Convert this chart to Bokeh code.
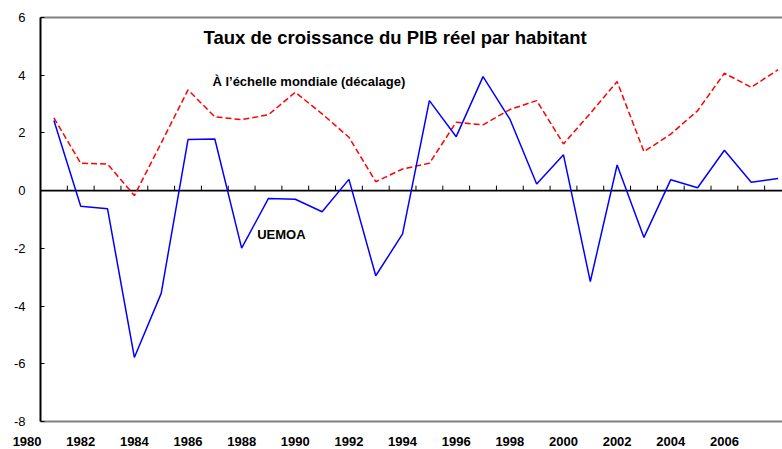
from bokeh.plotting import figure
from bokeh.models import Range1d, FixedTicker, Label
from bokeh.embed import file_html
from bokeh.resources import INLINE

# ---- data ----
years = list(range(1981, 2009))
uemoa = [2.43, -0.54, -0.63, -5.78, -3.56, 1.77, 1.79, -1.99, -0.27, -0.30,
         -0.73, 0.39, -2.95, -1.50, 3.12, 1.87, 3.95, 2.48, 0.23, 1.24,
         -3.15, 0.89, -1.62, 0.38, 0.10, 1.40, 0.29, 0.42]
monde = [2.52, 0.95, 0.92, -0.17, 1.65, 3.49, 2.56, 2.46, 2.63, 3.41,
         2.66, 1.85, 0.31, 0.75, 0.95, 2.37, 2.28, 2.81, 3.12, 1.62,
         2.68, 3.78, 1.35, 1.96, 2.77, 4.07, 3.58, 4.19]
x_label_years = list(range(1980, 2007, 2))
x_tick_labels = [str(y) for y in x_label_years]
y_ticks = [-8, -6, -4, -2, 0, 2, 4, 6]
y_tick_labels = [str(v) for v in y_ticks]

title_text = "Taux de croissance du PIB réel par habitant"
monde_label = "À l’échelle mondiale (décalage)"
uemoa_label = "UEMOA"

FONT = "Liberation Sans"

# category axis: each year occupies one slot; plot area starts half a slot before the first year
x_start_cat = years[0] - 0.5
px_per_year = 26.82
x_lo = x_start_cat - 40 / px_per_year
x_hi = x_start_cat + 742 / px_per_year

y_min, y_max = y_ticks[0], y_ticks[-1]
px_per_unit = 404 / (y_max - y_min)
pad_top = 8 / px_per_unit
pad_bottom = 28 / px_per_unit

p = figure(width=782, height=449,
           x_range=Range1d(x_lo, x_hi),
           y_range=Range1d(y_min - pad_bottom, y_max + pad_top),
           output_backend="svg", toolbar_location=None,
           min_border_left=0, min_border_top=9, min_border_right=0,
           min_border_bottom=0)
p.outline_line_color = None
p.xgrid.visible = False
p.ygrid.visible = False
p.background_fill_color = "white"
p.border_fill_color = "white"

# plot-area border bands (top / bottom, gray), drawn as thin filled strips 2 px thick
half = 1.0 / px_per_unit
p.quad(left=[x_start_cat, x_start_cat], right=[x_hi + 1, x_hi + 1],
       top=[y_max + half, y_min + half], bottom=[y_max - half, y_min - half],
       fill_color="#808080", line_color=None)

# zero line with category tick marks between years
x_edge = [x_start_cat, x_hi + 1]
p.line(x=x_edge, y=[0, 0], line_color="black", line_width=1.6)
tick_x = [y + 0.5 for y in years]
tick_len = 5 / px_per_unit
p.segment(x0=tick_x, y0=[0] * len(tick_x), x1=tick_x, y1=[tick_len] * len(tick_x),
          line_color="black", line_width=1)

p.line(years, monde, line_color="#FF0000", line_width=1.5, line_dash="6 3")
p.line(years, uemoa, line_color="#0000FF", line_width=1.5)

# bottom axis: labels only, placed under the plot area's lower edge
xa = p.xaxis[0]
xa.fixed_location = y_min
xa.ticker = FixedTicker(ticks=x_label_years)
xa.major_label_overrides = {y: s for y, s in zip(x_label_years, x_tick_labels)}
xa.major_tick_in = 0
xa.major_tick_out = 0
xa.minor_tick_in = 0
xa.minor_tick_out = 0
xa.axis_line_color = None
xa.major_label_text_font = FONT
xa.major_label_text_font_style = "bold"
xa.major_label_text_font_size = "13px"
xa.major_label_text_color = "black"
xa.major_label_standoff = 15

# left axis, located at the start of the category axis
ya = p.yaxis[0]
ya.fixed_location = x_start_cat
ya.bounds = (y_min, y_max)
ya.ticker = FixedTicker(ticks=y_ticks)
ya.major_label_overrides = {v: s for v, s in zip(y_ticks, y_tick_labels)}
ya.axis_line_color = "black"
ya.axis_line_width = 2
ya.major_tick_in = 4
ya.major_tick_out = 0
ya.major_tick_line_color = "black"
ya.minor_tick_in = 0
ya.minor_tick_out = 0
ya.major_label_text_font = FONT
ya.major_label_text_font_size = "13px"
ya.major_label_text_color = "black"
ya.major_label_standoff = 15

# title and series labels
p.add_layout(Label(x=1993.72, y=5.3, text=title_text, text_align="center",
                   text_baseline="middle", text_font=FONT, text_font_style="bold",
                   text_font_size="18.5px", text_color="black"))
p.add_layout(Label(x=1986.91, y=3.78, text=monde_label, text_align="left",
                   text_baseline="middle", text_font=FONT, text_font_style="bold",
                   text_font_size="13px", text_color="black"))
p.add_layout(Label(x=1988.58, y=-1.52, text=uemoa_label, text_align="left",
                   text_baseline="middle", text_font=FONT, text_font_style="bold",
                   text_font_size="13px", text_color="black"))

open("out.html", "w").write(file_html(p, INLINE))
